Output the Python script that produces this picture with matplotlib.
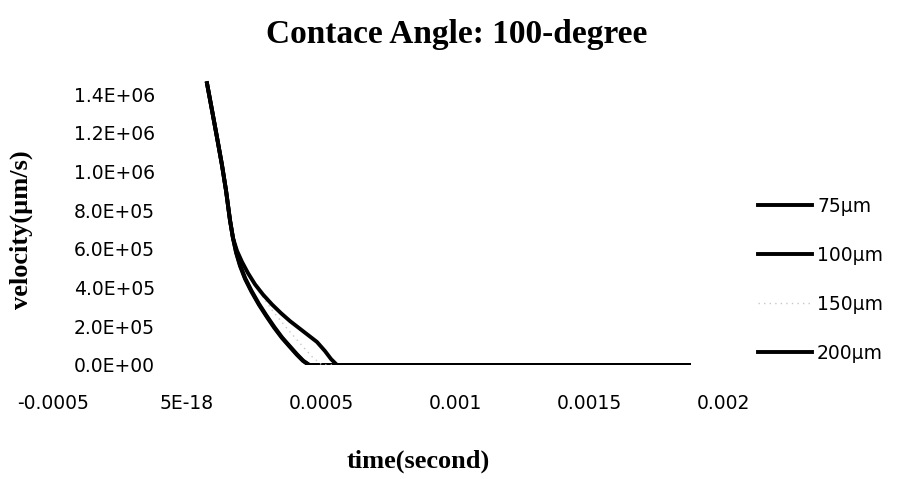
import matplotlib
matplotlib.use("Agg")
import matplotlib.pyplot as plt
from matplotlib.ticker import FixedLocator

# ---- data ----
time_75 = [7.46e-5, 9.33e-5, 1.119e-4, 1.306e-4, 1.455e-4, 1.604e-4, 1.716e-4,
           1.830e-4, 1.977e-4, 2.164e-4, 2.400e-4, 2.680e-4, 2.960e-4, 3.250e-4,
           3.540e-4, 3.820e-4, 4.104e-4, 4.328e-4, 4.552e-4, 6.0e-4, 1.0e-3,
           1.5e-3, 1.873e-3]
vel_75 = [1.457e6, 1.318e6, 1.178e6, 1.034e6, 9.04e5, 7.50e5, 6.56e5,
          5.81e5, 5.12e5, 4.45e5, 3.80e5, 3.12e5, 2.52e5, 1.93e5,
          1.40e5, 9.6e4, 5.2e4, 2.1e4, 0, 0, 0, 0, 0]

time_100 = [7.46e-5, 9.33e-5, 1.119e-4, 1.306e-4, 1.455e-4, 1.604e-4, 1.716e-4,
            1.835e-4, 1.985e-4, 2.175e-4, 2.410e-4, 2.690e-4, 2.970e-4, 3.262e-4,
            3.552e-4, 3.832e-4, 4.115e-4, 4.340e-4, 4.570e-4, 6.0e-4, 1.0e-3,
            1.5e-3, 1.873e-3]
vel_100 = [1.455e6, 1.316e6, 1.176e6, 1.032e6, 9.02e5, 7.48e5, 6.56e5,
           5.83e5, 5.15e5, 4.48e5, 3.83e5, 3.15e5, 2.55e5, 1.96e5,
           1.42e5, 9.8e4, 5.4e4, 2.2e4, 0, 0, 0, 0, 0]

time_150 = [7.46e-5, 9.33e-5, 1.119e-4, 1.306e-4, 1.455e-4, 1.604e-4, 1.716e-4,
            2.164e-4, 2.649e-4, 3.171e-4, 3.694e-4, 4.216e-4, 4.664e-4, 5.037e-4,
            6.0e-4, 1.0e-3, 1.5e-3, 1.873e-3]
vel_150 = [1.455e6, 1.316e6, 1.176e6, 1.032e6, 9.02e5, 7.48e5, 6.56e5,
           4.98e5, 3.86e5, 2.84e5, 1.95e5, 1.12e5, 4.3e4, 0,
           0, 0, 0, 0]

time_200 = [7.46e-5, 9.33e-5, 1.119e-4, 1.306e-4, 1.455e-4, 1.604e-4, 1.716e-4,
            1.866e-4, 2.052e-4, 2.276e-4, 2.537e-4, 2.836e-4, 3.171e-4, 3.507e-4,
            3.843e-4, 4.179e-4, 4.515e-4, 4.850e-4, 5.149e-4, 5.373e-4, 5.597e-4,
            1.0e-3, 1.5e-3, 1.873e-3]
vel_200 = [1.455e6, 1.316e6, 1.176e6, 1.032e6, 9.02e5, 7.48e5, 6.56e5,
           5.90e5, 5.33e5, 4.75e5, 4.17e5, 3.64e5, 3.13e5, 2.68e5,
           2.27e5, 1.91e5, 1.55e5, 1.19e5, 7.2e4, 3.1e4, 0,
           0, 0, 0]

series_labels = ["75µm", "100µm", "150µm", "200µm"]
x_ticks = [-0.0005, 0.0, 0.0005, 0.001, 0.0015, 0.002]
x_tick_labels = ["-0.0005", "5E-18", "0.0005", "0.001", "0.0015", "0.002"]
y_ticks = [0, 2e5, 4e5, 6e5, 8e5, 1.0e6, 1.2e6, 1.4e6]
y_tick_labels = ["0.0E+00", "2.0E+05", "4.0E+05", "6.0E+05", "8.0E+05",
                 "1.0E+06", "1.2E+06", "1.4E+06"]
title = "Contace Angle: 100-degree"
x_label = "time(second)"
y_label = "velocity(µm/s)"

# ---- figure ----
W, H = 902, 479
fig = plt.figure(figsize=(W / 100, H / 100), dpi=100)

x0_px, x1_px = 53, 723          # pixel positions of -0.0005 and 0.002
y0_px = 365                     # pixel of 0 velocity
px_per_unit = 38.7 / 2e5
ymax = 1.5e6
ytop_px = y0_px - ymax * px_per_unit
ax = fig.add_axes([x0_px / W, (H - y0_px) / H, (x1_px - x0_px) / W, (y0_px - ytop_px) / H])
ax.set_xlim(-0.0005, 0.002)
ax.set_ylim(0, ymax)

tick_font = "DejaVu Sans"
serif_bold = dict(family="Liberation Serif", weight="bold")

lw = 2.8
ax.plot(time_75, vel_75, color="black", lw=lw, label=series_labels[0], solid_joinstyle="round")
ax.plot(time_100, vel_100, color="black", lw=lw, label=series_labels[1], solid_joinstyle="round")
ax.plot(time_150, vel_150, color="#c8c8c8", lw=1.0, ls=(0, (1, 3)), label=series_labels[2])
ax.plot(time_200, vel_200, color="black", lw=lw, label=series_labels[3], solid_joinstyle="round")

for s in ax.spines.values():
    s.set_visible(False)
ax.spines["left"].set_position(("data", 0))

ax.xaxis.set_major_locator(FixedLocator(x_ticks))
ax.set_xticklabels(x_tick_labels)
ax.yaxis.set_major_locator(FixedLocator(y_ticks))
ax.set_yticklabels(y_tick_labels)
ax.tick_params(axis="both", length=0, labelsize=13.5, colors="black")
ax.tick_params(axis="y", pad=23)
ax.tick_params(axis="x", pad=21)
for t in ax.get_xticklabels() + ax.get_yticklabels():
    t.set_family(tick_font)

fig.text(457 / W, 1 - 35 / H, title, ha="center", va="center", fontsize=24, **serif_bold)
fig.text(418 / W, 1 - 461 / H, x_label, ha="center", va="center", fontsize=19, **serif_bold)
fig.text(21 / W, 1 - 230 / H, y_label, ha="center", va="center", rotation=90, fontsize=19, **serif_bold)

leg = ax.legend(loc="upper left", bbox_to_anchor=(758 / W, 1 - 197 / H),
                bbox_transform=fig.transFigure, frameon=False,
                prop=dict(family=tick_font, size=13.5), handlelength=2.9,
                handletextpad=0.25, labelspacing=1.6, borderpad=0, borderaxespad=0)

fig.savefig("out.png", dpi=100)
